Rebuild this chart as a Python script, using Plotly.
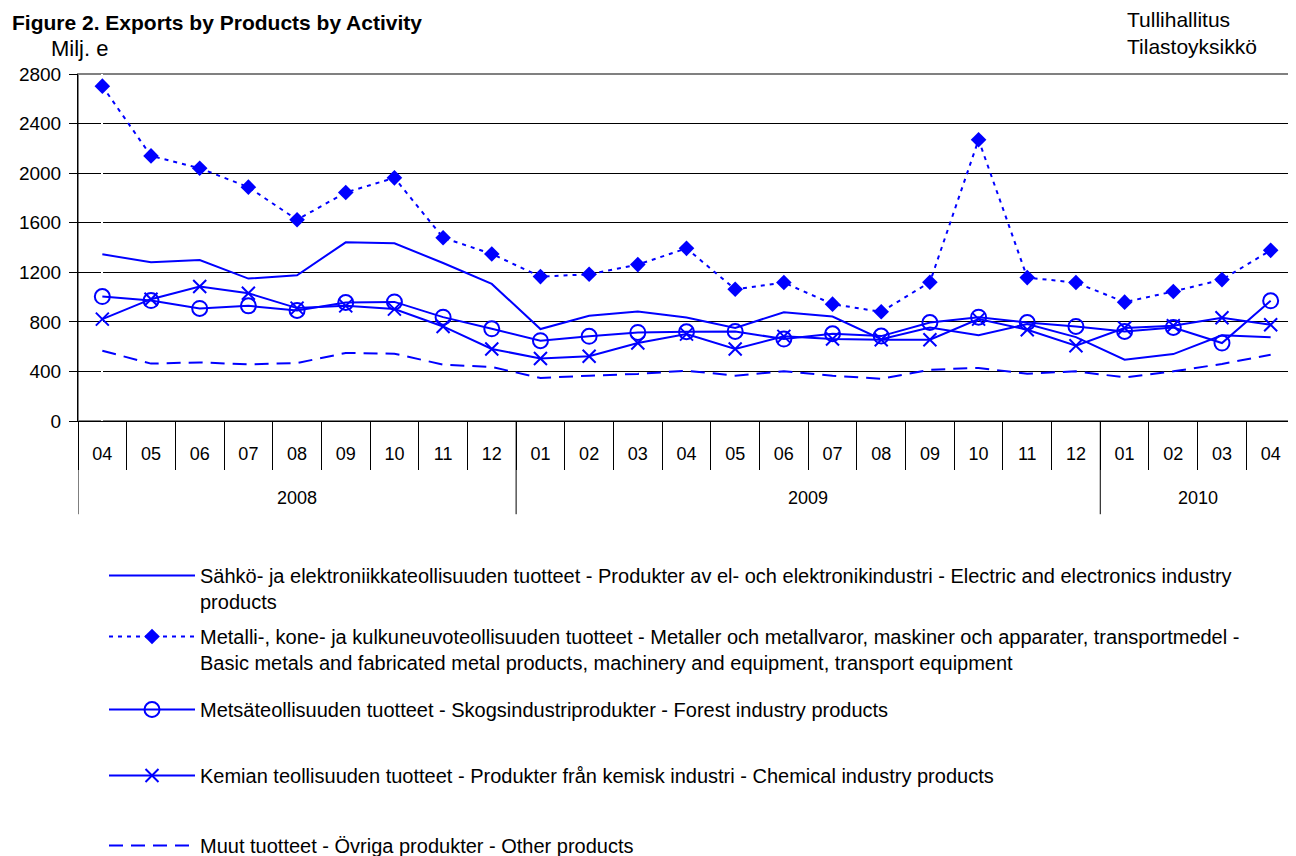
import plotly.graph_objects as go

# ── Data ─────────────────────────────────────────────────────────────
years = ["2008"] * 9 + ["2009"] * 12 + ["2010"] * 4
months = ["04", "05", "06", "07", "08", "09", "10", "11", "12",
          "01", "02", "03", "04", "05", "06", "07", "08", "09", "10", "11", "12",
          "01", "02", "03", "04"]

electric = [1345, 1281, 1299, 1149, 1176, 1442, 1434, 1275, 1106,
            742, 849, 884, 835, 750, 878, 843, 660, 755, 693, 782, 677,
            495, 540, 691, 675]
metals = [2702, 2139, 2040, 1887, 1624, 1844, 1962, 1479, 1348,
          1165, 1184, 1262, 1393, 1063, 1117, 943, 881, 1120, 2270, 1157, 1117,
          959, 1045, 1141, 1377]
forest = [1004, 972, 908, 929, 892, 956, 961, 838, 744,
          648, 683, 715, 720, 723, 661, 704, 685, 795, 838, 795, 763,
          723, 755, 629, 970]
chemical = [822, 983, 1085, 1031, 911, 929, 903, 763, 581,
            505, 522, 629, 701, 581, 683, 661, 656, 656, 822, 736, 607,
            750, 768, 833, 776]
other = [567, 463, 473, 457, 468, 549, 543, 455, 436,
         347, 366, 380, 406, 366, 401, 366, 340, 414, 428, 382, 401,
         352, 401, 460, 535]

names = [
    "Sähkö- ja elektroniikkateollisuuden tuotteet - Produkter av el- och elektronikindustri - Electric and electronics industry<br>products",
    "Metalli-, kone- ja kulkuneuvoteollisuuden tuotteet - Metaller och metallvaror, maskiner och apparater, transportmedel -<br>Basic metals and fabricated metal products, machinery and equipment, transport equipment",
    "Metsäteollisuuden tuotteet - Skogsindustriprodukter - Forest industry products",
    "Kemian teollisuuden tuotteet - Produkter från kemisk industri - Chemical industry products",
    "Muut tuotteet - Övriga produkter - Other products",
]

BLUE = "#0000FF"
FONT = "Liberation Sans, Arial, sans-serif"

# Page body has an 8px margin, so the plot box is placed 8px up/left of the
# target. Plot area on screen: x 78..1295, y 73.5..421.5
PL, PT, PW, PH = 78, 73.5, 1217, 348


def px_x(px):
    return (px - PL) / PW


def px_y(py):
    return (PT + PH - py) / PH


idx = list(range(len(months)))
fig = go.Figure()

# legend rows: centre of each entry's first text line, in px from the top
legend_rows = [576, 637, 710, 776, 846]
LEG_SYMBOL_W = 86

styles = [
    dict(mode="lines", line=dict(color=BLUE, width=2)),
    dict(mode="lines+markers", line=dict(color=BLUE, width=2, dash="4px,5px"),
         marker=dict(symbol="diamond", size=12, color=BLUE)),
    dict(mode="lines+markers", line=dict(color=BLUE, width=2),
         marker=dict(symbol="circle-open", size=15, color=BLUE, line=dict(width=2))),
    dict(mode="lines+markers", line=dict(color=BLUE, width=2),
         marker=dict(symbol="x-thin-open", size=13, color=BLUE, line=dict(width=2, color=BLUE))),
    dict(mode="lines", line=dict(color=BLUE, width=2, dash="14px,8px")),
]

for i, (series, name, st) in enumerate(zip([electric, metals, forest, chemical, other], names, styles)):
    leg = "legend" if i == 0 else f"legend{i + 1}"
    fig.add_trace(go.Scatter(x=idx, y=series, name=name, legend=leg,
                             customdata=[f"{m}/{y}" for m, y in zip(months, years)],
                             hovertemplate="%{customdata}: %{y}<extra></extra>", **st))

legend_layout = {}
for i, row in enumerate(legend_rows):
    key = "legend" if i == 0 else f"legend{i + 1}"
    legend_layout[key] = dict(
        x=(200 - 8 - 10 - LEG_SYMBOL_W) / 1296, y=1 - (row - 28) / 856,
        xref="container", yref="container",
        xanchor="left", yanchor="top", bgcolor="rgba(0,0,0,0)",
        itemwidth=LEG_SYMBOL_W, valign="top",
        font=dict(family=FONT, size=20, color="black"),
    )

fig.update_layout(
    width=1296,
    height=856,
    paper_bgcolor="white",
    plot_bgcolor="white",
    margin=dict(l=PL - 8, r=1296 - (PL + PW - 8), t=PT - 8, b=856 - (PT + PH - 8), autoexpand=False),
    font=dict(family=FONT, color="black"),
    showlegend=True,
    **legend_layout,
)

fig.update_yaxes(
    range=[0, 2800], dtick=400, showgrid=True, gridcolor="#000000", gridwidth=1,
    showline=True, linecolor="#000000", linewidth=1,
    ticks="outside", ticklen=8, tickcolor="#000000", ticklabelstandoff=4,
    tickfont=dict(family=FONT, size=19), zeroline=False,
)
fig.update_xaxes(
    range=[-0.5, len(months) - 0.5], tickmode="array", tickvals=idx, ticktext=months,
    showgrid=False, showline=True, linecolor="#000000", linewidth=1,
    ticks="", ticklabelstandoff=16, tickfont=dict(family=FONT, size=18),
    minor=dict(tickmode="array", tickvals=[i - 0.5 for i in range(len(months) + 1)],
               ticks="outside", ticklen=48, tickcolor="#000000", showgrid=False),
    automargin=False,
)

# grey frame on top/right like the original
fig.add_shape(type="rect", xref="paper", yref="paper", x0=0, x1=1, y0=0, y1=1,
              line=dict(color="#808080", width=2), layer="below")

# year row: labels centred under each year's months, dividers at year boundaries
year_order = list(dict.fromkeys(years))
start = 0
bounds = [-0.5]
for yr in year_order:
    n = years.count(yr)
    fig.add_annotation(text=yr, xref="x", yref="paper", x=start + (n - 1) / 2, y=px_y(499),
                       showarrow=False, xanchor="center", yanchor="middle",
                       font=dict(family=FONT, size=18, color="black"))
    start += n
    bounds.append(start - 0.5)
for b in bounds:
    fig.add_shape(type="line", xref="x", yref="paper", x0=b, x1=b, y0=0, y1=px_y(515),
                  line=dict(color="#000000", width=1))

fig.add_annotation(text="<b>Figure 2. Exports by Products by Activity</b>", xref="paper", yref="paper",
                   x=px_x(10), y=px_y(22), xanchor="left", yanchor="middle", showarrow=False,
                   font=dict(family=FONT, size=21, color="black"))
fig.add_annotation(text="Milj. e", xref="paper", yref="paper",
                   x=px_x(49), y=px_y(48), xanchor="left", yanchor="middle", showarrow=False,
                   font=dict(family=FONT, size=22, color="black"))
fig.add_annotation(text="Tullihallitus<br>Tilastoyksikkö", xref="paper", yref="paper",
                   x=px_x(1125), y=px_y(32), xanchor="left", yanchor="middle",
                   align="left", showarrow=False,
                   font=dict(family=FONT, size=21, color="black"))

fig.write_html("out.html")
